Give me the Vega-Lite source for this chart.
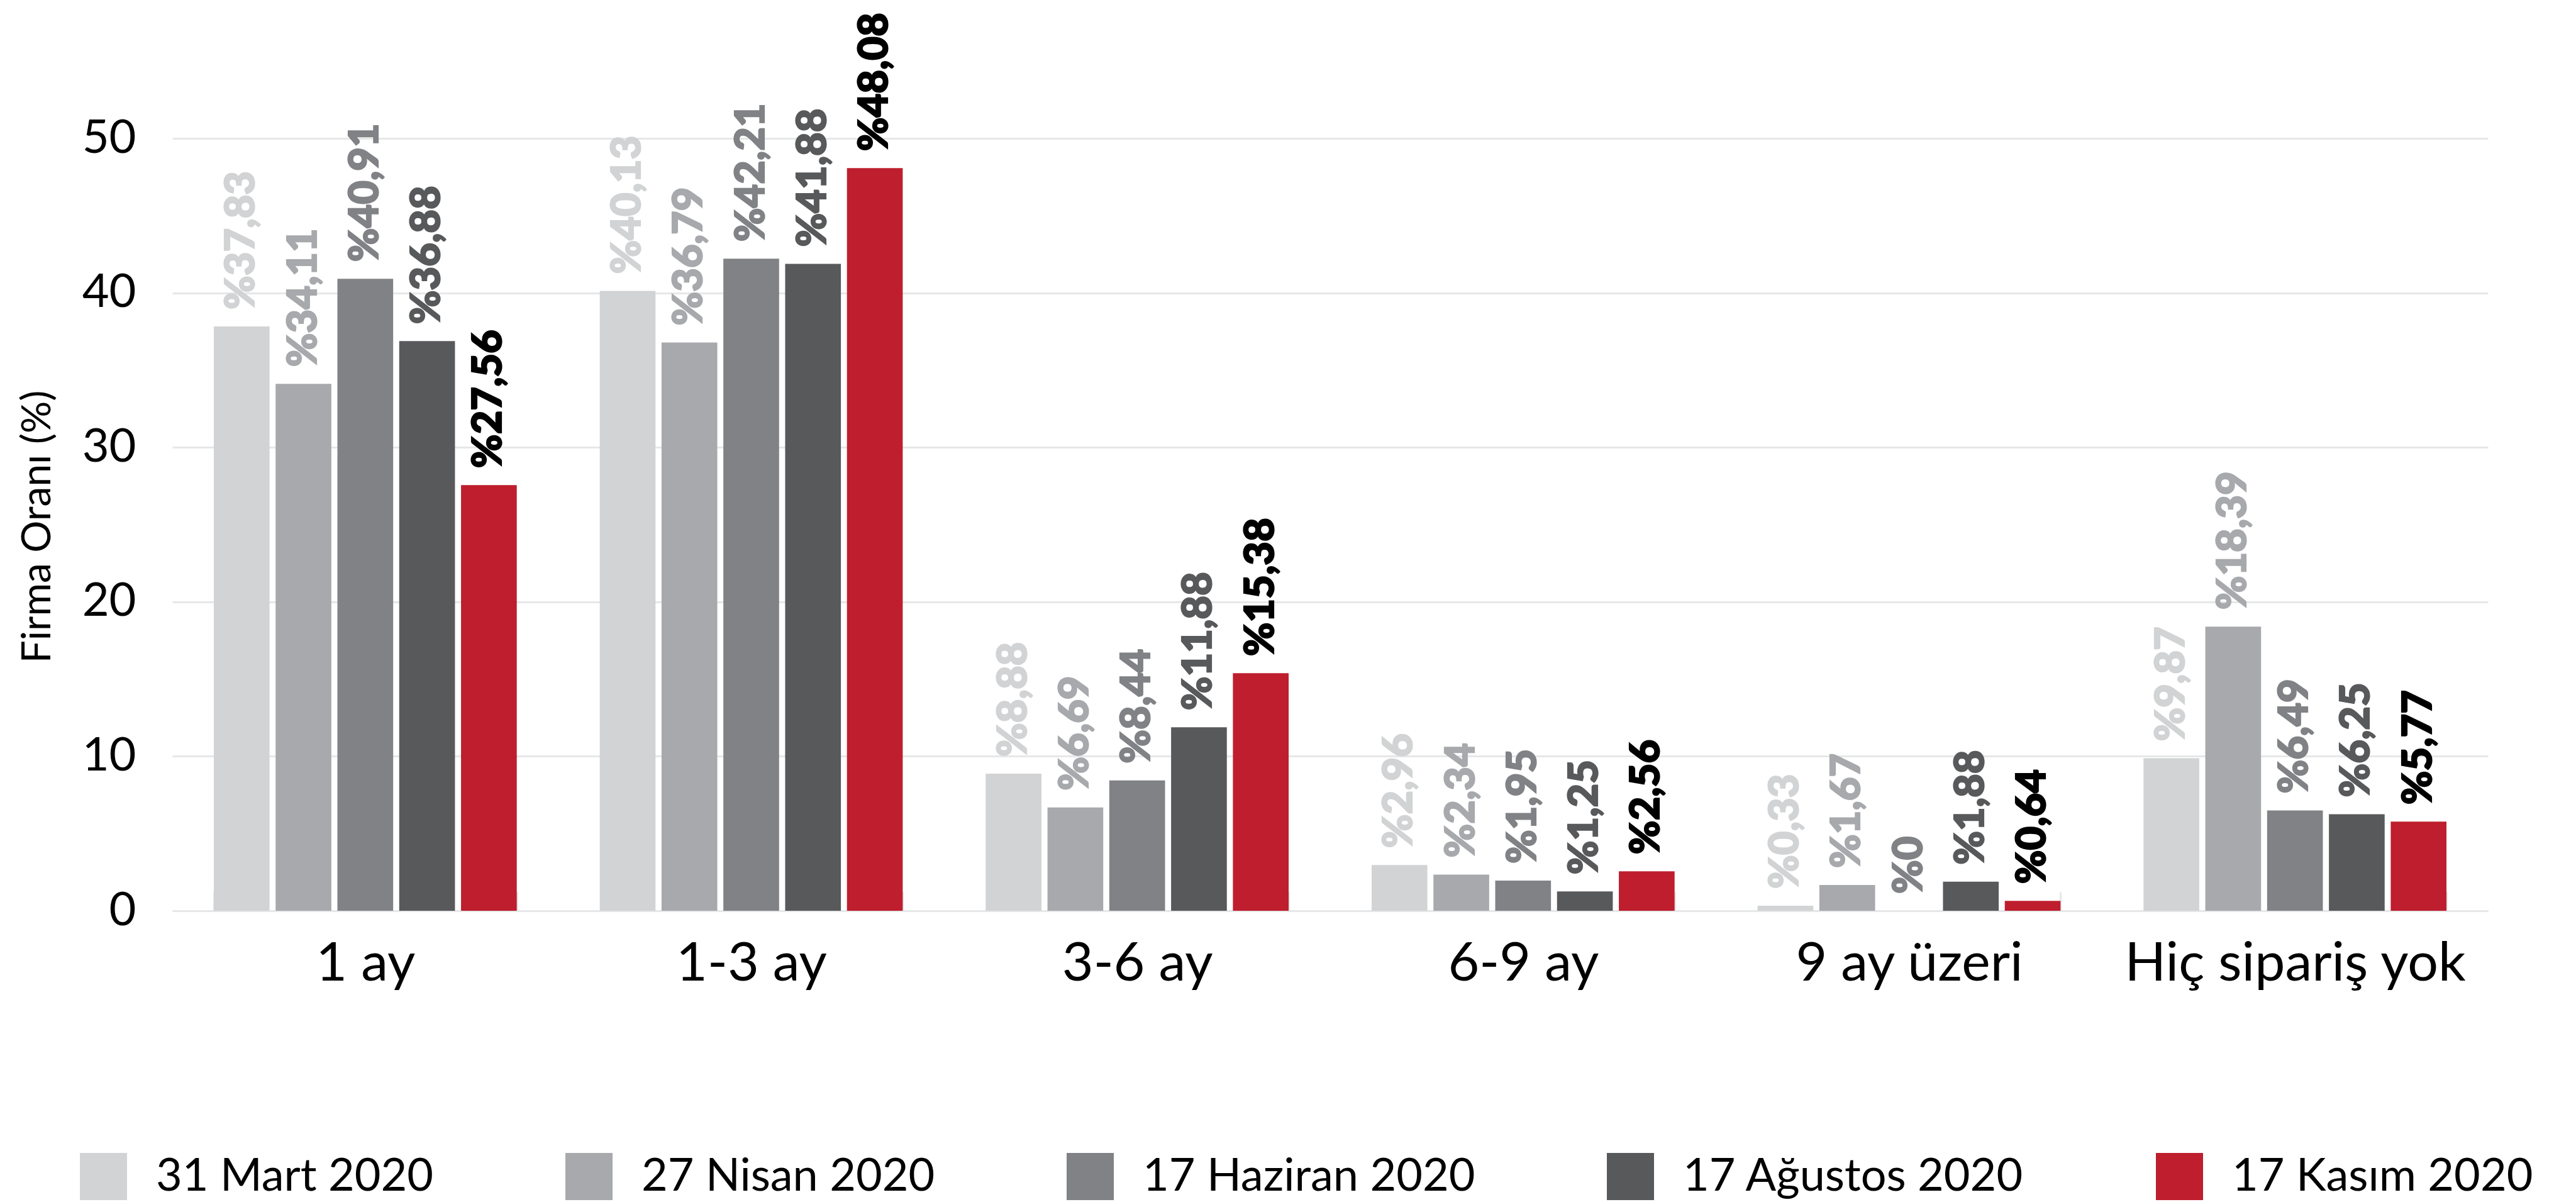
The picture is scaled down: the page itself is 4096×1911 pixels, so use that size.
{
  "$schema": "https://vega.github.io/schema/vega-lite/v6.json",
  "autosize": {"type": "none"},
  "padding": {"left": 274, "top": 220, "right": 140, "bottom": 463},
  "width": 3682,
  "height": 1228,
  "background": "white",
  "config": {
    "view": {"stroke": null},
    "font": "Lato",
    "axis": {"labelFont": "Lato", "titleFont": "Lato"},
    "legend": {"labelFont": "Lato"}
  },
  "data": {
    "values": [
      {"cat": "1 ay", "date": "31 Mart 2020", "value": 37.83, "label": "%37,83"},
      {"cat": "1 ay", "date": "27 Nisan 2020", "value": 34.11, "label": "%34,11"},
      {"cat": "1 ay", "date": "17 Haziran 2020", "value": 40.91, "label": "%40,91"},
      {"cat": "1 ay", "date": "17 Ağustos 2020", "value": 36.88, "label": "%36,88"},
      {"cat": "1 ay", "date": "17 Kasım 2020", "value": 27.56, "label": "%27,56"},
      {"cat": "1-3 ay", "date": "31 Mart 2020", "value": 40.13, "label": "%40,13"},
      {"cat": "1-3 ay", "date": "27 Nisan 2020", "value": 36.79, "label": "%36,79"},
      {"cat": "1-3 ay", "date": "17 Haziran 2020", "value": 42.21, "label": "%42,21"},
      {"cat": "1-3 ay", "date": "17 Ağustos 2020", "value": 41.88, "label": "%41,88"},
      {"cat": "1-3 ay", "date": "17 Kasım 2020", "value": 48.08, "label": "%48,08"},
      {"cat": "3-6 ay", "date": "31 Mart 2020", "value": 8.88, "label": "%8,88"},
      {"cat": "3-6 ay", "date": "27 Nisan 2020", "value": 6.69, "label": "%6,69"},
      {"cat": "3-6 ay", "date": "17 Haziran 2020", "value": 8.44, "label": "%8,44"},
      {"cat": "3-6 ay", "date": "17 Ağustos 2020", "value": 11.88, "label": "%11,88"},
      {"cat": "3-6 ay", "date": "17 Kasım 2020", "value": 15.38, "label": "%15,38"},
      {"cat": "6-9 ay", "date": "31 Mart 2020", "value": 2.96, "label": "%2,96"},
      {"cat": "6-9 ay", "date": "27 Nisan 2020", "value": 2.34, "label": "%2,34"},
      {"cat": "6-9 ay", "date": "17 Haziran 2020", "value": 1.95, "label": "%1,95"},
      {"cat": "6-9 ay", "date": "17 Ağustos 2020", "value": 1.25, "label": "%1,25"},
      {"cat": "6-9 ay", "date": "17 Kasım 2020", "value": 2.56, "label": "%2,56"},
      {"cat": "9 ay üzeri", "date": "31 Mart 2020", "value": 0.33, "label": "%0,33"},
      {"cat": "9 ay üzeri", "date": "27 Nisan 2020", "value": 1.67, "label": "%1,67"},
      {"cat": "9 ay üzeri", "date": "17 Haziran 2020", "value": 0, "label": "%0"},
      {"cat": "9 ay üzeri", "date": "17 Ağustos 2020", "value": 1.88, "label": "%1,88"},
      {"cat": "9 ay üzeri", "date": "17 Kasım 2020", "value": 0.64, "label": "%0,64"},
      {"cat": "Hiç sipariş yok", "date": "31 Mart 2020", "value": 9.87, "label": "%9,87"},
      {"cat": "Hiç sipariş yok", "date": "27 Nisan 2020", "value": 18.39, "label": "%18,39"},
      {"cat": "Hiç sipariş yok", "date": "17 Haziran 2020", "value": 6.49, "label": "%6,49"},
      {"cat": "Hiç sipariş yok", "date": "17 Ağustos 2020", "value": 6.25, "label": "%6,25"},
      {"cat": "Hiç sipariş yok", "date": "17 Kasım 2020", "value": 5.77, "label": "%5,77"}
    ]
  },
  "encoding": {
    "x": {
      "field": "cat",
      "type": "nominal",
      "sort": ["1 ay", "1-3 ay", "3-6 ay", "6-9 ay", "9 ay üzeri", "Hiç sipariş yok"],
      "scale": {"paddingInner": 0.215, "paddingOuter": 0.1075},
      "axis": {
        "title": null,
        "labelAngle": 0,
        "labelFontSize": 86,
        "labelLimit": 2000,
        "labelColor": "#000000",
        "labelBaseline": "alphabetic",
        "labelPadding": 140,
        "domainColor": "#e6e7e8",
        "domainWidth": 3,
        "ticks": true,
        "tickBand": "extent",
        "tickSize": -30,
        "tickColor": "#e6e7e8",
        "tickWidth": 3,
        "grid": false
      }
    },
    "xOffset": {
      "field": "date",
      "type": "nominal",
      "sort": ["31 Mart 2020", "27 Nisan 2020", "17 Haziran 2020", "17 Ağustos 2020", "17 Kasım 2020"],
      "scale": {"paddingInner": 0.098, "paddingOuter": 0}
    },
    "y": {
      "field": "value",
      "type": "quantitative",
      "scale": {"domain": [0, 50], "nice": false},
      "axis": {
        "title": "Firma Oranı (%)",
        "titleFontSize": 64,
        "titleFontWeight": "normal",
        "titleColor": "#000000",
        "titleAngle": -90,
        "titleX": -214,
        "titleY": 617,
        "titleAlign": "center",
        "titleBaseline": "middle",
        "values": [0, 10, 20, 30, 40, 50],
        "labelFontSize": 74,
        "labelColor": "#000000",
        "labelPadding": 58,
        "ticks": false,
        "domain": false,
        "grid": true,
        "gridColor": "#e6e7e8",
        "gridWidth": 3
      }
    }
  },
  "layer": [
    {
      "mark": {"type": "bar"},
      "encoding": {
        "color": {
          "field": "date",
          "type": "nominal",
          "scale": {
            "domain": ["31 Mart 2020", "27 Nisan 2020", "17 Haziran 2020", "17 Ağustos 2020", "17 Kasım 2020"],
            "range": ["#d1d3d4", "#a7a9ac", "#808285", "#58595b", "#be1e2d"]
          },
          "legend": {
            "title": null,
            "orient": "none",
            "direction": "horizontal",
            "columns": 5,
            "legendX": -147,
            "legendY": 1613,
            "padding": 0,
            "symbolType": "square",
            "symbolSize": 5625,
            "symbolStrokeWidth": 0,
            "symbolOpacity": 1,
            "labelFontSize": 72,
            "labelColor": "#000000",
            "labelOffset": 46,
            "labelLimit": 1000,
            "columnPadding": 209
          }
        }
      }
    },
    {
      "mark": {"type": "text", "angle": -90, "align": "left", "baseline": "middle", "dx": 27, "fontSize": 65, "fontWeight": 900, "font": "Lato", "strokeWidth": 2.2},
      "encoding": {
        "text": {"field": "label", "type": "nominal"},
        "color": {
          "field": "date",
          "type": "nominal",
          "scale": {
            "domain": ["31 Mart 2020", "27 Nisan 2020", "17 Haziran 2020", "17 Ağustos 2020", "17 Kasım 2020"],
            "range": ["#d1d3d4", "#a7a9ac", "#808285", "#58595b", "#000000"]
          },
          "legend": null
        },
        "stroke": {
          "field": "date",
          "type": "nominal",
          "scale": {
            "domain": ["31 Mart 2020", "27 Nisan 2020", "17 Haziran 2020", "17 Ağustos 2020", "17 Kasım 2020"],
            "range": ["#d1d3d4", "#a7a9ac", "#808285", "#58595b", "#000000"]
          },
          "legend": null
        }
      }
    }
  ],
  "resolve": {"scale": {"color": "independent"}}
}
